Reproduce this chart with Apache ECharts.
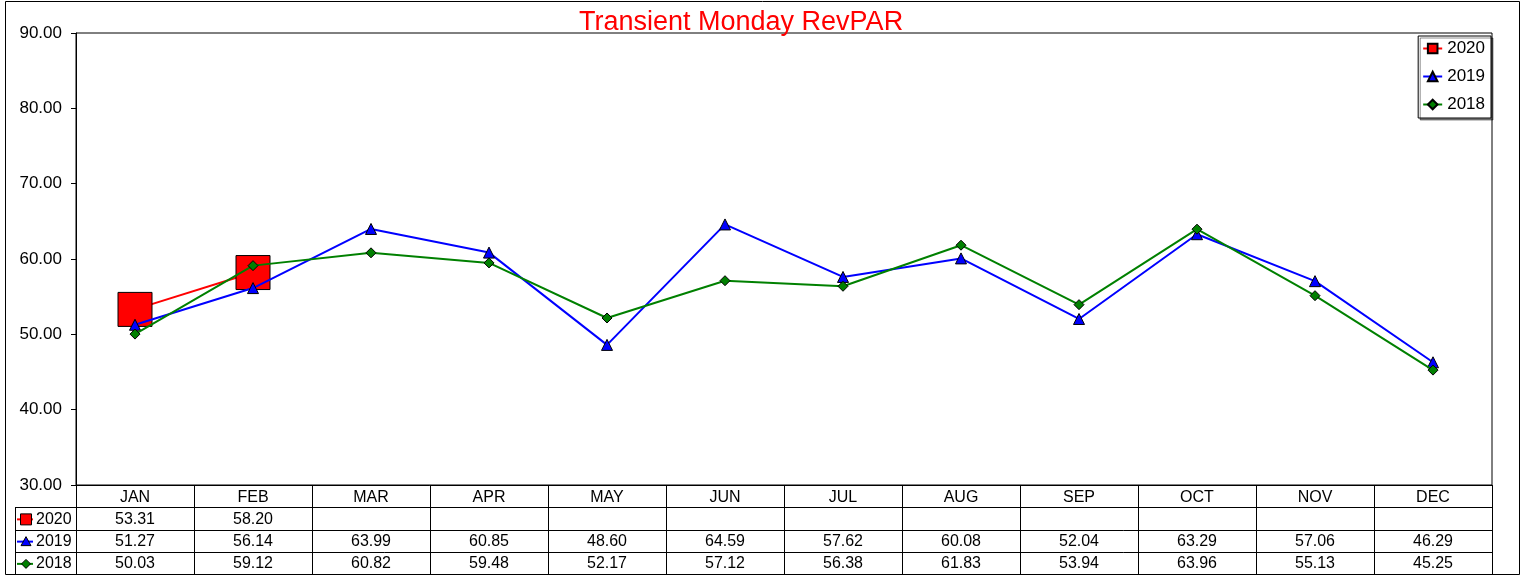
<!DOCTYPE html>
<html>
<head>
<meta charset="utf-8">
<script src="https://cdn.jsdelivr.net/npm/echarts@6/dist/echarts.min.js"></script>
<style>
  html, body { margin: 0; padding: 0; background: #fff; }
  #chart { width: 1525px; height: 575px; }
</style>
</head>
<body>
<div id="chart"></div>
<script>
// Monthly transient Monday RevPAR by year
const months = ['JAN', 'FEB', 'MAR', 'APR', 'MAY', 'JUN', 'JUL', 'AUG', 'SEP', 'OCT', 'NOV', 'DEC'];
const seriesNames = ['2020', '2019', '2018'];
const values2020 = [53.31, 58.20];
const values2019 = [51.27, 56.14, 63.99, 60.85, 48.60, 64.59, 57.62, 60.08, 52.04, 63.29, 57.06, 46.29];
const values2018 = [50.03, 59.12, 60.82, 59.48, 52.17, 57.12, 56.38, 61.83, 53.94, 63.96, 55.13, 45.25];
const yMin = 30, yMax = 90, yStep = 10;

const FONT = '"Liberation Sans", Arial, sans-serif';
const GRID = { left: 76, top: 33, right: 33, bottom: 90 };
const W = 1525, H = 575;
const ROW_H = 22.25;          // height of each data-table row
const LEGEND_COL_X = 15;      // left edge of the series-name column

const seriesStyles = [
  { color: '#ff0000', symbol: 'rect', size: 34 },
  { color: '#0000ff', symbol: 'triangle', size: 11 },
  { color: '#008000', symbol: 'diamond', size: 10 }
];
const seriesValues = [values2020, values2019, values2018];

const chart = echarts.init(document.getElementById('chart'), null, { renderer: 'canvas' });

chart.setOption({
  animation: false,
  backgroundColor: '#fff',
  textStyle: { fontFamily: FONT },
  title: {
    text: 'Transient Monday RevPAR',
    left: 579,
    top: 9,
    padding: 0,
    textStyle: { color: '#ff0000', fontSize: 27, fontWeight: 'normal', fontFamily: FONT }
  },
  legend: {
    orient: 'vertical',
    right: 34,
    top: 36,
    padding: [4, 6, 5, 4],
    itemGap: 11,
    itemWidth: 19,
    itemHeight: 12,
    backgroundColor: '#fff',
    borderColor: '#000',
    borderWidth: 1,
    shadowColor: 'rgba(0,0,0,0.45)',
    shadowOffsetX: 2,
    shadowOffsetY: 2,
    shadowBlur: 0,
    textStyle: { color: '#000', fontSize: 17, fontFamily: FONT },
    data: seriesNames
  },
  grid: {
    left: GRID.left, top: GRID.top, right: GRID.right, bottom: GRID.bottom,
    show: true, borderColor: '#000', borderWidth: 1, backgroundColor: '#fff'
  },
  xAxis: {
    type: 'category',
    data: months,
    boundaryGap: true,
    axisLine: { lineStyle: { color: '#000', width: 1 } },
    axisTick: { show: false },
    axisLabel: { show: false },
    splitLine: { show: false }
  },
  yAxis: {
    type: 'value',
    min: yMin, max: yMax, interval: yStep,
    axisLine: { show: true, lineStyle: { color: '#000', width: 1 } },
    axisTick: { show: true, length: 5, lineStyle: { color: '#000' } },
    axisLabel: {
      color: '#000', fontSize: 17, fontFamily: FONT, margin: 14,
      formatter: v => v.toFixed(2)
    },
    splitLine: { show: false }
  },
  series: seriesNames.map((name, i) => ({
    name,
    type: 'line',
    data: seriesValues[i],
    symbol: seriesStyles[i].symbol,
    symbolSize: seriesStyles[i].size,
    showAllSymbol: true,
    lineStyle: { color: seriesStyles[i].color, width: 2 },
    itemStyle: { color: seriesStyles[i].color, borderColor: '#000', borderWidth: 1 },
    z: 2 + i
  }))
});

// Data table beneath the plot, laid out on the category axis columns
function buildTable() {
  const els = [];
  const line = (x1, y1, x2, y2) => els.push({
    type: 'line', silent: true,
    shape: { x1, y1, x2, y2 },
    style: { stroke: '#000', lineWidth: 1 }
  });
  const text = (x, y, str, align) => els.push({
    type: 'text', silent: true,
    x, y,
    style: { text: str, fill: '#000', font: '16px ' + FONT, align: align || 'center', verticalAlign: 'middle' }
  });

  const plotLeft = GRID.left, plotRight = W - GRID.right;
  const top = H - GRID.bottom;
  const rowTops = [0, 1, 2, 3, 4].map(r => top + r * ROW_H);
  const c0 = chart.convertToPixel({ xAxisIndex: 0 }, 0);
  const c1 = chart.convertToPixel({ xAxisIndex: 0 }, 1);
  const colW = c1 - c0;

  // horizontal rules
  line(plotLeft, Math.round(rowTops[1]) + 0.5, plotRight, Math.round(rowTops[1]) + 0.5);
  for (let r = 1; r <= 4; r++) {
    const y = Math.round(rowTops[r]) + 0.5;
    line(LEGEND_COL_X + 0.5, y, plotRight + 0.5, y);
  }
  // vertical rules
  line(LEGEND_COL_X + 0.5, Math.round(rowTops[1]), LEGEND_COL_X + 0.5, Math.round(rowTops[4]) + 1);
  for (let i = 0; i <= months.length; i++) {
    const x = Math.round(c0 - colW / 2 + i * colW) + 0.5;
    line(x, top, x, Math.round(rowTops[4]) + 1);
  }

  // header row
  months.forEach((m, i) => {
    text(chart.convertToPixel({ xAxisIndex: 0 }, i), (rowTops[0] + rowTops[1]) / 2 + 1, m);
  });

  // series rows
  seriesNames.forEach((name, s) => {
    const yc = (rowTops[s + 1] + rowTops[s + 2]) / 2 + 1;
    const st = seriesStyles[s];
    // key icon: short line plus marker
    els.push({
      type: 'line', silent: true,
      shape: { x1: LEGEND_COL_X + 2, y1: yc, x2: LEGEND_COL_X + 18, y2: yc },
      style: { stroke: st.color, lineWidth: 2 }
    });
    const mx = LEGEND_COL_X + 11;
    if (st.symbol === 'rect') {
      els.push({ type: 'rect', silent: true, shape: { x: mx - 5.5, y: yc - 5.5, width: 11, height: 11 },
        style: { fill: st.color, stroke: '#000', lineWidth: 1 } });
    } else if (st.symbol === 'triangle') {
      els.push({ type: 'polygon', silent: true, shape: { points: [[mx, yc - 5], [mx + 5, yc + 4], [mx - 5, yc + 4]] },
        style: { fill: st.color, stroke: '#000', lineWidth: 1 } });
    } else {
      els.push({ type: 'polygon', silent: true, shape: { points: [[mx, yc - 4.5], [mx + 4.5, yc], [mx, yc + 4.5], [mx - 4.5, yc]] },
        style: { fill: st.color, stroke: '#000', lineWidth: 1 } });
    }
    text(LEGEND_COL_X + 21, yc, name, 'left');
    seriesValues[s].forEach((v, i) => {
      if (v == null) return;
      text(chart.convertToPixel({ xAxisIndex: 0 }, i), yc, v.toFixed(2));
    });
  });

  // outer frame of the whole chart
  els.push({
    type: 'rect', silent: true,
    shape: { x: 5.5, y: 1.5, width: 1514, height: Math.round(rowTops[4]) - 1 },
    style: { fill: 'none', stroke: '#000', lineWidth: 1 }
  });
  return els;
}

chart.setOption({ graphic: { elements: buildTable() } });
</script>
</body>
</html>
